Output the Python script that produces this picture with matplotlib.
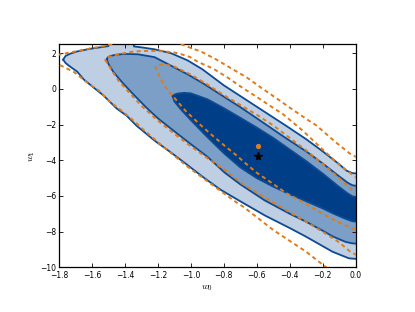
import matplotlib
matplotlib.use("Agg")
import matplotlib.pyplot as plt
import numpy as np

# ---------------- data ----------------
# filled likelihood contours: outer (3 sigma), middle (2 sigma), inner (1 sigma)
outer_upper_w0 = [-1.775, -1.76, -1.73, -1.69, -1.61, -1.53, -1.50, -1.495, -1.347, -1.345,
                  -1.30, -1.22, -1.12, -1.02, -0.93, -0.80, -0.70, -0.55, -0.42, -0.30,
                  -0.20, -0.10, -0.056, -0.02, 0.05]
outer_upper_w1 = [1.64, 1.85, 1.98, 2.10, 2.25, 2.36, 2.40, 2.65, 2.65, 2.38,
                  2.33, 2.22, 2.00, 1.60, 1.10, 0.20, -0.40, -1.30, -2.08, -2.82,
                  -3.50, -4.22, -4.58, -4.72, -4.78]
outer_lower_w0 = [-1.775, -1.76, -1.74, -1.69, -1.65, -1.60, -1.53, -1.45, -1.39, -1.33,
                  -1.22, -1.12, -1.03, -0.925, -0.82, -0.70, -0.55, -0.40, -0.30, -0.14,
                  -0.04, 0.05]
outer_lower_w1 = [1.64, 1.45, 1.30, 0.97, 0.53, 0.15, -0.37, -1.10, -1.50, -2.06,
                  -2.90, -3.57, -4.20, -4.95, -5.65, -6.30, -7.10, -7.80, -8.29, -9.13,
                  -9.50, -9.56]

middle_upper_w0 = [-1.51, -1.505, -1.49, -1.46, -1.40, -1.32, -1.22, -1.12, -1.02, -0.92,
                   -0.794, -0.70, -0.62, -0.552, -0.42, -0.30, -0.20, -0.10, -0.05, -0.02, 0.05]
middle_upper_w1 = [1.66, 1.76, 1.84, 1.91, 1.96, 1.94, 1.78, 1.30, 0.82, 0.28,
                   -0.47, -1.02, -1.52, -1.95, -2.78, -3.50, -4.18, -4.90, -5.25, -5.40, -5.50]
middle_lower_w0 = [-1.51, -1.50, -1.47, -1.42, -1.36, -1.27, -1.20, -1.10, -1.00, -0.90,
                   -0.794, -0.70, -0.552, -0.40, -0.30, -0.20, -0.137, -0.06, -0.02, 0.05]
middle_lower_w1 = [1.66, 1.40, 0.95, 0.40, -0.20, -1.05, -1.65, -2.38, -3.10, -3.80,
                   -4.70, -5.35, -6.25, -7.00, -7.45, -7.95, -8.28, -8.58, -8.66, -8.70]

inner_upper_w0 = [-1.11, -1.10, -1.08, -1.04, -1.00, -0.90, -0.80, -0.70, -0.60, -0.50,
                  -0.40, -0.30, -0.20, -0.10, -0.05, -0.02, 0.05]
inner_upper_w1 = [-0.42, -0.32, -0.26, -0.22, -0.25, -0.58, -1.08, -1.62, -2.17, -2.75,
                  -3.40, -4.05, -4.75, -5.50, -5.85, -6.02, -6.15]
inner_lower_w0 = [-1.11, -1.10, -1.06, -1.00, -0.90, -0.80, -0.70, -0.60, -0.50, -0.40,
                  -0.30, -0.20, -0.137, -0.07, -0.02, 0.05]
inner_lower_w1 = [-0.42, -0.70, -1.15, -1.75, -2.70, -3.60, -4.40, -5.00, -5.48, -5.90,
                  -6.30, -6.70, -6.98, -7.25, -7.42, -7.50]

# dashed (approximate) contours, each an open curve: upper branch and lower branch
dash3_upper_w0 = [-1.92, -1.80, -1.69, -1.61, -1.53, -1.45, -1.27, -1.09, -1.036, -0.935,
                  -0.844, -0.753, -0.662, -0.571, -0.481, -0.40, -0.30, -0.238, -0.117, -0.036, 0.05]
dash3_upper_w1 = [1.62, 1.92, 2.12, 2.27, 2.40, 2.58, 2.85, 2.62, 2.42, 2.08,
                  1.64, 1.14, 0.65, 0.05, -0.52, -1.05, -1.68, -2.05, -3.02, -3.62, -4.05]
dash3_lower_w0 = [-1.92, -1.80, -1.71, -1.62, -1.56, -1.49, -1.43, -1.345, -1.29, -1.18,
                  -1.02, -0.855, -0.733, -0.68, -0.55, -0.50, -0.30, -0.21, -0.15, -0.10]
dash3_lower_w1 = [1.62, 1.36, 0.95, 0.29, -0.08, -0.73, -1.15, -1.80, -2.27, -3.14,
                  -4.36, -5.48, -6.30, -6.62, -7.55, -7.91, -9.13, -9.78, -10.2, -10.6]

dash2_upper_w0 = [-1.52, -1.50, -1.46, -1.418, -1.347, -1.266, -1.185, -1.104, -1.057, -1.006,
                  -0.956, -0.865, -0.774, -0.693, -0.592, -0.491, -0.44, -0.32, -0.20, -0.10, 0.0, 0.05]
dash2_upper_w1 = [1.62, 1.78, 1.90, 1.98, 2.10, 2.13, 2.12, 2.05, 1.94, 1.79,
                  1.51, 1.14, 0.62, 0.10, -0.50, -1.12, -1.42, -2.35, -3.40, -4.25, -4.95, -5.30]
dash2_lower_w0 = [-1.52, -1.50, -1.478, -1.438, -1.38, -1.30, -1.20, -1.10, -1.00, -0.90,
                  -0.794, -0.683, -0.55, -0.441, -0.30, -0.198, -0.10, -0.036, 0.05]
dash2_lower_w1 = [1.62, 1.35, 1.00, 0.45, -0.15, -0.95, -1.78, -2.52, -3.22, -3.88,
                  -4.55, -5.35, -6.10, -6.70, -7.45, -8.02, -8.60, -9.10, -9.55]

dash1_upper_w0 = [-1.215, -1.20, -1.16, -1.10, -1.00, -0.90, -0.80, -0.70, -0.60, -0.50,
                  -0.40, -0.30, -0.20, -0.10, 0.0, 0.05]
dash1_upper_w1 = [1.20, 1.33, 1.38, 1.25, 0.80, 0.25, -0.35, -0.90, -1.45, -2.05,
                  -2.75, -3.45, -4.20, -5.00, -5.85, -6.20]
dash1_lower_w0 = [-1.215, -1.205, -1.19, -1.17, -1.15, -1.10, -1.03, -0.95, -0.885, -0.80,
                  -0.72, -0.68, -0.60, -0.52, -0.42, -0.30, -0.20, -0.10, 0.0, 0.05]
dash1_lower_w1 = [1.20, 1.00, 0.70, 0.35, 0.05, -0.50, -1.25, -1.95, -2.49, -3.15,
                  -3.75, -4.08, -4.70, -5.20, -5.85, -6.45, -7.00, -7.50, -7.90, -8.10]

true_w0, true_w1 = [-0.59], [-3.74]
best_w0, best_w1 = [-0.59], [-3.22]

xticks = [-1.8, -1.6, -1.4, -1.2, -1.0, -0.8, -0.6, -0.4, -0.2, 0.0]
yticks = [-10, -8, -6, -4, -2, 0, 2]

# ---------------- style ----------------
plt.rcParams['font.family'] = ['DejaVu Sans']
plt.rcParams['mathtext.fontset'] = 'cm'

fill_colors = ['#bfcfe3', '#7b9fc7', '#003f88']
edge_color = '#0d4a92'
dash_color = '#e07b1a'

fig = plt.figure(figsize=(4.15, 3.12), dpi=100)
ax = fig.add_axes([0.1422, 0.1433, 0.7148, 0.7147])


def closed(upper_x, upper_y, lower_x, lower_y):
    xs = list(upper_x) + list(lower_x[::-1])
    ys = list(upper_y) + list(lower_y[::-1])
    return xs, ys


def open_curve(upper_x, upper_y, lower_x, lower_y):
    # run from the end of the upper branch, round the tip, out along the lower branch
    xs = list(upper_x[::-1]) + list(lower_x[1:])
    ys = list(upper_y[::-1]) + list(lower_y[1:])
    return xs, ys


levels = [
    (outer_upper_w0, outer_upper_w1, outer_lower_w0, outer_lower_w1),
    (middle_upper_w0, middle_upper_w1, middle_lower_w0, middle_lower_w1),
    (inner_upper_w0, inner_upper_w1, inner_lower_w0, inner_lower_w1),
]

for (ux, uy, lx, ly), fc in zip(levels, fill_colors):
    xs, ys = closed(ux, uy, lx, ly)
    ax.fill(xs, ys, facecolor=fc, edgecolor='none', zorder=1)

for (ux, uy, lx, ly) in levels:
    xs, ys = closed(ux, uy, lx, ly)
    ax.plot(xs, ys, color=edge_color, lw=1.3, zorder=2, solid_joinstyle='round')

dashed = [
    (dash3_upper_w0, dash3_upper_w1, dash3_lower_w0, dash3_lower_w1),
    (dash2_upper_w0, dash2_upper_w1, dash2_lower_w0, dash2_lower_w1),
    (dash1_upper_w0, dash1_upper_w1, dash1_lower_w0, dash1_lower_w1),
]
for (ux, uy, lx, ly) in dashed:
    xs, ys = open_curve(ux, uy, lx, ly)
    ax.plot(xs, ys, color=dash_color, lw=1.4, ls=(0, (2.1, 1.7)), zorder=3)

ax.plot(best_w0, best_w1, 'o', color=dash_color, ms=2.8, mec=dash_color, zorder=4)
ax.plot(true_w0, true_w1, '*', color='black', ms=5.8, zorder=5)

ax.set_xlim(-1.8, 0.0)
ax.set_ylim(-10, 2.5)
ax.set_xticks(xticks)
ax.set_yticks(yticks)
ax.set_xticklabels(['\u2212%.1f' % abs(v) if v < 0 else '0.0' for v in xticks])
ax.set_yticklabels(['\u2212%d' % abs(v) if v < 0 else '%d' % v for v in yticks])

ax.tick_params(direction='in', top=True, right=True, length=3, width=0.6,
               labelsize=5.5, colors='black')
ax.tick_params(axis='x', pad=2.5)
ax.tick_params(axis='y', pad=2)
for s in ax.spines.values():
    s.set_linewidth(0.9)

ax.set_xlabel(r'$w_0$', fontsize=7, labelpad=2)
ax.set_ylabel(r'$w_1$', fontsize=7, labelpad=2)

fig.savefig('out.png', dpi=100)
